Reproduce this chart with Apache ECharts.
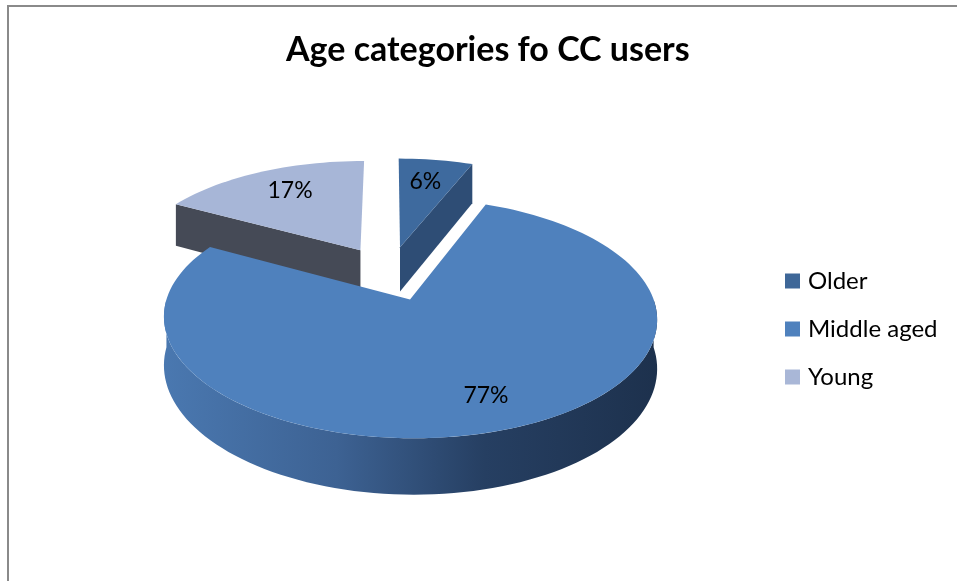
<!DOCTYPE html>
<html>
<head>
<meta charset="utf-8">
<script src="https://cdn.jsdelivr.net/npm/echarts@6/dist/echarts.min.js"></script>
<style>
html,body{margin:0;padding:0;background:#fff;}
#chart{width:957px;height:581px;}
</style>
</head>
<body>
<div id="chart"></div>
<script>
// ---- data ----
const categories = ['Older', 'Middle aged', 'Young'];
const values = [6, 77, 17];          // percent
const titleText = 'Age categories fo CC users';

// ---- styles ----
const topColors  = ['#3E6A9E', '#4F81BD', '#A7B6D7'];
const sideColors = ['#2E4D75', '#3A5E8C', '#454A56'];
const legendColors = ['#3E6798', '#4F81BD', '#A9B7D7'];

// projection parameters for the 3D look
const P = {X0: 389.4, Y0: 273, W: 235, H: 109, p: 0.15, e: 0.25, dep: 46};
const labelRadius = [0.68, 0.73, 0.68];
const labelShift = [[0, -4], [6, 6], [0, -5]];

function proj(u, v) {
  const s = 1 / (1 + P.p * v);
  return [P.X0 + P.W * u * s, P.Y0 - P.H * v * s];
}
function projDown(u, v) {
  const t = proj(u, v);
  return [t[0], t[1] + P.dep / (1 + P.p * v)];
}
const rad = d => d * Math.PI / 180;

const total = values.reduce((a, b) => a + b, 0);
const starts = [];
let acc = 0;
values.forEach(v => { starts.push(acc / total * 360); acc += v; });

function makeRender(idx) {
  return function (params, api) {
    const ts = starts[idx];
    const te = ts + values[idx] / total * 360;
    const mid = (ts + te) / 2;
    const ou = P.e * Math.sin(rad(mid)), ov = P.e * Math.cos(rad(mid));
    const pt = (r, th) => [ou + r * Math.sin(rad(th)), ov + r * Math.cos(rad(th))];
    const children = [];
    // outer wall
    const ws = Math.max(ts, 90), we = Math.min(te, 270);
    if (we > ws) {
      const topArc = [], botArc = [];
      const n = Math.max(4, Math.ceil((we - ws) / 2));
      for (let k = 0; k <= n; k++) {
        const th = ws + (we - ws) * k / n;
        const q = pt(1, th);
        topArc.push(proj(q[0], q[1]));
        botArc.push(projDown(q[0], q[1]));
      }
      const pts = topArc.concat(botArc.reverse());
      const fill = idx === 1 ? new echarts.graphic.LinearGradient(0, 0, 1, 0, [
        {offset: 0, color: '#4A78B0'},
        {offset: 0.35, color: '#3D6293'},
        {offset: 0.65, color: '#263F62'},
        {offset: 1, color: '#1D314D'}
      ]) : sideColors[idx];
      children.push({type: 'polygon', shape: {points: pts}, style: {fill: fill}});
    }
    // radial faces
    const radial = (th) => {
      const q = pt(1, th), a = pt(0, 0);
      return [proj(a[0], a[1]), proj(q[0], q[1]), projDown(q[0], q[1]), projDown(a[0], a[1])];
    };
    if (Math.cos(rad(ts - 90)) < -0.01) {
      children.push({type: 'polygon', shape: {points: radial(ts)}, style: {fill: sideColors[idx]}});
    }
    if (Math.cos(rad(te + 90)) < -0.01) {
      children.push({type: 'polygon', shape: {points: radial(te)}, style: {fill: sideColors[idx]}});
    }
    // top face
    const topPts = [];
    const a0 = pt(0, 0);
    topPts.push(proj(a0[0], a0[1]));
    const n2 = Math.max(4, Math.ceil((te - ts) / 2));
    for (let k = 0; k <= n2; k++) {
      const th = ts + (te - ts) * k / n2;
      const q = pt(1, th);
      topPts.push(proj(q[0], q[1]));
    }
    children.push({type: 'polygon', shape: {points: topPts}, style: {fill: topColors[idx]}});
    // label
    const lq = pt(labelRadius[idx], mid);
    const lp = proj(lq[0], lq[1]);
    children.push({
      type: 'text', x: lp[0] + labelShift[idx][0], y: lp[1] + labelShift[idx][1],
      style: {text: values[idx] + '%', fill: '#000', font: '23px Lato', align: 'center', verticalAlign: 'middle'}
    });
    return {type: 'group', children: children};
  };
}

const series = categories.map((name, i) => ({
  type: 'custom',
  name: name,
  coordinateSystem: 'none',
  z: i === 1 ? 3 : 2,
  itemStyle: {color: legendColors[i]},
  data: [[values[i]]],
  renderItem: makeRender(i),
  silent: true,
  animation: false
}));

const chart = echarts.init(document.getElementById('chart'), null, {renderer: 'canvas'});
chart.setOption({
  animation: false,
  backgroundColor: '#fff',
  title: {
    text: titleText, left: 286, top: 33, padding: 0,
    textStyle: {fontFamily: 'Lato', fontWeight: 'bold', fontSize: 34, color: '#000'}
  },
  legend: {
    data: categories, orient: 'vertical', left: 785, top: 269, padding: 0,
    icon: 'rect', itemWidth: 15, itemHeight: 15, itemGap: 24,
    textStyle: {fontFamily: 'Lato', fontSize: 24, color: '#000', lineHeight: 24, padding: [0, 0, 0, 3]},
    selectedMode: false
  },
  graphic: [{
    type: 'rect', shape: {x: 8, y: 6, width: 1200, height: 800},
    style: {fill: 'none', stroke: '#8A8A8A', lineWidth: 2}, silent: true, z: 100
  }],
  series: series
});
</script>
</body>
</html>
